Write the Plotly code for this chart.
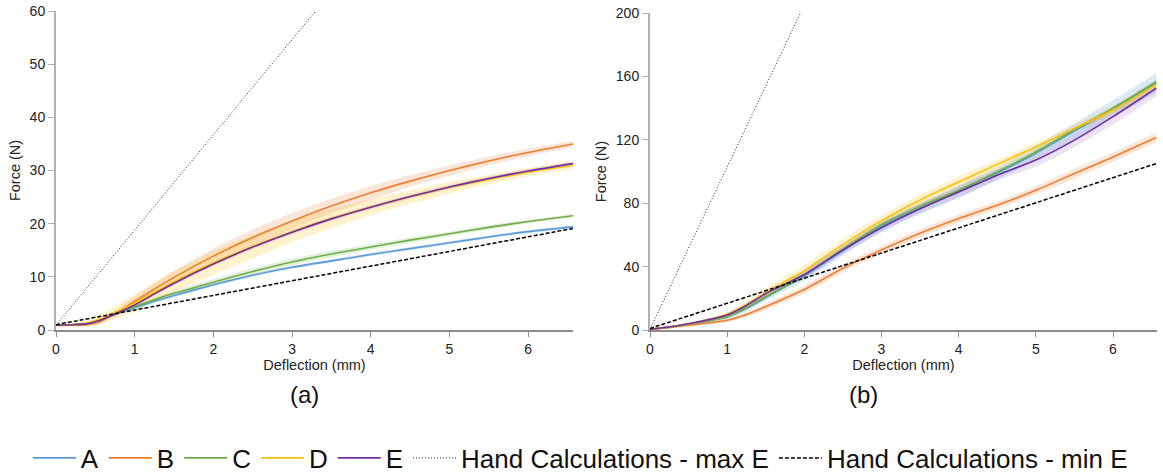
import plotly.graph_objects as go

# ---------------- data ----------------
series = ["A", "B", "C", "D", "E"]
colors = ["#5b9bd5", "#ed7d31", "#70ad47", "#ffc000", "#7030a0"]
fills = ["rgba(91,155,213,0.22)", "rgba(237,125,49,0.2)", "rgba(112,173,71,0.2)",
         "rgba(255,192,0,0.2)", "rgba(112,48,160,0.14)"]

# panel (a)
dL = [0, 0.2, 0.4, 0.55, 0.75, 1, 1.25, 1.5, 2, 2.5, 3, 3.5, 4, 4.5, 5, 5.5, 6, 6.57]
A_L = [0.9, 1.0, 1.2, 1.8, 3.0, 4.2, 5.4, 6.5, 8.5, 10.3, 11.8, 13.0, 14.2, 15.3, 16.4, 17.5, 18.5, 19.4]
B_L = [0.9, 0.9, 1.0, 1.5, 3.1, 5.4, 7.7, 9.9, 13.9, 17.4, 20.5, 23.3, 25.8, 28.0, 30.0, 31.8, 33.4, 35.0]
C_L = [0.9, 1.0, 1.2, 1.8, 3.0, 4.4, 5.7, 6.9, 9.0, 11.0, 12.8, 14.3, 15.6, 16.9, 18.1, 19.3, 20.4, 21.5]
D_L = [0.9, 1.0, 1.3, 2.0, 3.3, 5.1, 7.1, 9.1, 12.6, 15.7, 18.5, 21.0, 23.1, 25.0, 26.8, 28.3, 29.7, 31.0]
E_L = [0.9, 1.0, 1.2, 1.8, 3.0, 4.7, 6.8, 8.8, 12.4, 15.6, 18.4, 20.9, 23.1, 25.1, 26.9, 28.5, 29.9, 31.3]
eA_L = [0.1, 0.1, 0.1, 0.2, 0.3, 0.3, 0.3, 0.3, 0.3, 0.3, 0.3, 0.3, 0.3, 0.3, 0.3, 0.3, 0.3, 0.3]
eB_L = [0.2, 0.2, 0.2, 0.4, 0.6, 0.9, 1.1, 1.2, 1.4, 1.5, 1.5, 1.4, 1.3, 1.1, 1.0, 0.8, 0.7, 0.6]
eC_L = [0.1, 0.1, 0.1, 0.2, 0.3, 0.4, 0.5, 0.5, 0.6, 0.6, 0.6, 0.6, 0.5, 0.5, 0.4, 0.4, 0.3, 0.3]
eD_L = [0.3, 0.4, 0.6, 0.9, 1.2, 1.6, 1.8, 2.0, 2.2, 2.2, 2.0, 1.8, 1.5, 1.3, 1.1, 0.9, 0.8, 0.7]
eE_L = [0.1, 0.1, 0.1, 0.2, 0.3, 0.3, 0.4, 0.4, 0.4, 0.4, 0.4, 0.4, 0.4, 0.4, 0.4, 0.4, 0.4, 0.4]
maxE_L_x = [0, 3.3]
maxE_L_y = [0.9, 60]
minE_L_x = [0, 6.57]
minE_L_y = [1.0, 19.1]

# panel (b)
dR = [0, 0.25, 0.5, 0.75, 1, 1.25, 1.5, 1.75, 2, 2.5, 3, 3.5, 4, 4.5, 5, 5.5, 6, 6.56]
A_R = [0.5, 1.8, 3.6, 5.7, 8.3, 13.5, 20.5, 27.3, 34.0, 50.0, 65.5, 77.0, 87.5, 99.0, 111.5, 125.5, 139.5, 156.0]
B_R = [0.5, 1.5, 3.0, 4.4, 6.2, 9.8, 14.8, 20.0, 25.5, 39.0, 50.5, 61.0, 70.3, 78.7, 88.2, 98.7, 109.2, 121.5]
C_R = [0.5, 1.8, 3.7, 5.8, 8.3, 14.0, 21.0, 27.8, 34.5, 51.0, 66.5, 78.0, 88.2, 99.7, 112.4, 126.5, 140.0, 156.5]
D_R = [0.5, 1.9, 3.8, 6.4, 10.0, 16.0, 23.5, 30.5, 37.5, 54.0, 69.0, 82.0, 93.4, 104.5, 115.6, 127.2, 138.8, 154.8]
E_R = [0.5, 1.9, 3.9, 6.4, 9.5, 15.5, 23.0, 29.0, 35.0, 50.5, 64.5, 76.5, 87.1, 97.7, 107.2, 119.8, 134.6, 152.5]
eA_R = [0.3, 0.5, 0.8, 1, 1.3, 1.6, 2, 2.5, 3, 3, 3.5, 3.5, 4, 4, 4.5, 5, 5.5, 6]
eB_R = [0.3, 0.5, 0.8, 1, 1.3, 1.6, 2, 2.2, 2.5, 2.5, 2.5, 2.5, 2.5, 2.5, 2.5, 3, 3, 3]
eC_R = [0.3, 0.4, 0.6, 0.8, 1, 1.2, 1.5, 1.5, 1.5, 1.5, 1.5, 1.5, 1.5, 1.5, 1.5, 1.5, 1.5, 1.5]
eD_R = [0.3, 0.5, 0.8, 1, 1.5, 2.2, 3, 3.2, 3.5, 3.5, 3.5, 3.5, 3.5, 3, 2.5, 2.5, 2.5, 2.5]
eE_R = [0.3, 0.5, 0.8, 1, 1.3, 1.6, 2, 2.2, 2.5, 2.5, 3, 3, 3.5, 3.5, 4, 4.5, 5, 5]
maxE_R_x = [0, 1.95]
maxE_R_y = [0.5, 200]
minE_R_x = [0, 6.56]
minE_R_y = [1.0, 105]

panels = [
    dict(d=dL, vals=[A_L, B_L, C_L, D_L, E_L], errs=[eA_L, eB_L, eC_L, eD_L, eE_L],
         maxx=maxE_L_x, maxy=maxE_L_y, minx=minE_L_x, miny=minE_L_y, xa="x", ya="y"),
    dict(d=dR, vals=[A_R, B_R, C_R, D_R, E_R], errs=[eA_R, eB_R, eC_R, eD_R, eE_R],
         maxx=maxE_R_x, maxy=maxE_R_y, minx=minE_R_x, miny=minE_R_y, xa="x2", ya="y2"),
]

SM = 0.7
fig = go.Figure()
for pi, p in enumerate(panels):
    for k in range(5):
        up = [v + e for v, e in zip(p["vals"][k], p["errs"][k])]
        lo = [v - e for v, e in zip(p["vals"][k], p["errs"][k])]
        fig.add_trace(go.Scatter(x=p["d"], y=up, mode="lines",
                                 line=dict(width=0, shape="spline", smoothing=SM),
                                 showlegend=False, hoverinfo="skip", xaxis=p["xa"], yaxis=p["ya"]))
        fig.add_trace(go.Scatter(x=p["d"], y=lo, mode="lines",
                                 line=dict(width=0, shape="spline", smoothing=SM),
                                 fill="tonexty", fillcolor=fills[k], showlegend=False,
                                 hoverinfo="skip", xaxis=p["xa"], yaxis=p["ya"]))
for pi, p in enumerate(panels):
    for k in range(5):
        fig.add_trace(go.Scatter(x=p["d"], y=p["vals"][k], mode="lines", name=series[k],
                                 line=dict(color=colors[k], width=1.6, shape="spline", smoothing=SM),
                                 showlegend=(pi == 0), legendrank=k + 1,
                                 xaxis=p["xa"], yaxis=p["ya"]))
    fig.add_trace(go.Scatter(x=p["maxx"], y=p["maxy"], mode="lines",
                             name="Hand Calculations - max E",
                             line=dict(color="#222222", width=1, dash="1px,2px"),
                             showlegend=(pi == 0), legendrank=6, xaxis=p["xa"], yaxis=p["ya"]))
    fig.add_trace(go.Scatter(x=p["minx"], y=p["miny"], mode="lines",
                             name="Hand Calculations - min E",
                             line=dict(color="#000000", width=1.5, dash="4px,2px"),
                             showlegend=(pi == 0), legendrank=7, xaxis=p["xa"], yaxis=p["ya"]))

W, H = 1163, 475
axcol = "#b0b0b0"
font = "Liberation Sans, Arial, sans-serif"
common_x = dict(range=[0, 6.57], dtick=1, tick0=0, showgrid=False, zeroline=False,
                showline=True, linecolor="#8c8c8c", linewidth=1.5, ticks="outside",
                ticklen=5, tickcolor="#8c8c8c", tickfont=dict(size=14, color="#222"),
                automargin=False,
                title=dict(text="Deflection (mm)", font=dict(size=14.5, color="#222"), standoff=4))
common_y = dict(showgrid=False, zeroline=False, showline=True, linecolor=axcol, linewidth=2,
                ticks="outside", ticklen=6, tickcolor=axcol, tickfont=dict(size=14, color="#222"),
                automargin=False,
                title=dict(text="Force (N)", font=dict(size=14.5, color="#222"), standoff=6))

fig.update_layout(
    width=W, height=H, autosize=False,
    margin=dict(l=0, r=0, t=0, b=0, autoexpand=False),
    paper_bgcolor="white", plot_bgcolor="white",
    font=dict(family=font, color="#111"),
    xaxis=dict(domain=[56 / W, 573 / W], anchor="y", **common_x),
    yaxis=dict(domain=[(H - 330) / H, (H - 11) / H], anchor="x", range=[0, 60], dtick=10, **common_y),
    xaxis2=dict(domain=[650 / W, 1157 / W], anchor="y2", **common_x),
    yaxis2=dict(domain=[(H - 330) / H, (H - 13) / H], anchor="x2", range=[0, 200], dtick=40, **common_y),
    legend=dict(orientation="h", x=0.499, xanchor="center", y=(H - 458) / H, yanchor="middle",
                font=dict(size=26, color="#111", family=font), traceorder="normal",
                bgcolor="rgba(0,0,0,0)", itemwidth=43),
    annotations=[
        dict(text="(a)", x=288 / W, y=(H - 410) / H, xref="paper", yref="paper",
             showarrow=False, font=dict(size=24, color="#111")),
        dict(text="(b)", x=880 / W, y=(H - 410) / H, xref="paper", yref="paper",
             showarrow=False, font=dict(size=24, color="#111")),
    ],
)

fig.write_html("out.html", config={"displayModeBar": False},
               post_script="document.body.style.margin='0px';document.body.style.overflow='hidden';")
